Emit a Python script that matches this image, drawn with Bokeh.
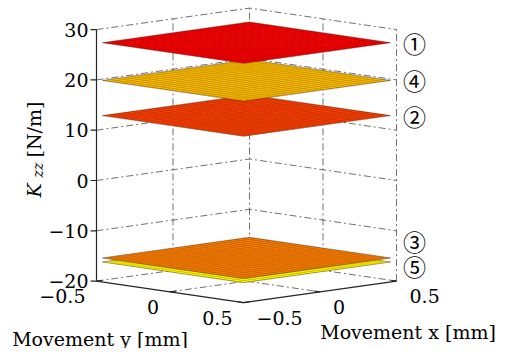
import numpy as np
from bokeh.plotting import figure
from bokeh.models import Range1d
from bokeh.embed import file_html
from bokeh.resources import INLINE
from bokeh.core.properties import value

# ---------------- data ----------------
plane_ids = ["①", "②", "③", "④", "⑤"]
plane_z = [27.4, 12.9, -15.4, 19.9, -16.2]
plane_colors = ["#ff0000", "#ff4000", "#ff8000", "#ffbf00", "#ffff00"]
label_z = [27.4, 12.9, -12.0, 19.9, -17.0]

x_ticks = [-0.5, 0.0, 0.5]
x_tick_labels = ["−0.5", "0", "0.5"]
y_ticks = [-0.5, 0.0, 0.5]
y_tick_labels = ["−0.5", "0", "0.5"]
z_ticks = [-20, -10, 0, 10, 20, 30]
z_tick_labels = ["−20", "−10", "0", "10", "20", "30"]

x_label = "Movement x [mm]"
y_label = "Movement y [mm]"
z_label_main = "K"
z_label_sub = "zz"
z_label_unit = "[N/m]"

x_lim = (-0.5, 0.5)
y_lim = (-0.5, 0.5)
z_lim = (-20, 30)
plane_half = 0.48
mesh_n = 20

# ---------------- projection (orthographic 3-D view) ----------------
WIN_H = 356


def proj(x, y, z):
    sx = 246 + 153 * np.asarray(x, float) + 147 * np.asarray(y, float)
    sy = 180 - 5.03 * np.asarray(z, float) + 21.5 * (np.asarray(y, float) - np.asarray(x, float))
    return sx, WIN_H - sy


p = figure(width=499, height=348, x_range=Range1d(0, 499), y_range=Range1d(WIN_H - 348, WIN_H),
           output_backend="svg", toolbar_location=None, min_border=0)
p.axis.visible = False
p.grid.visible = False
p.outline_line_color = None
p.background_fill_color = "white"

SERIF = value("DejaVu Serif")
GRID_COL = "#606060"
AX_COL = "#262626"

# ---------------- grid lines (back walls + floor) ----------------
gx, gy = [], []
x0, x1 = x_lim
y0, y1 = y_lim
zb, zt = z_lim
for z in z_ticks:
    a = proj([x0, x1, x1], [y0, y0, y1], [z, z, z])
    gx.append(list(a[0])); gy.append(list(a[1]))
for x in x_ticks:
    if x == x0:
        continue
    a = proj([x, x], [y0, y0], [zb, zt])
    gx.append(list(a[0])); gy.append(list(a[1]))
for y in y_ticks:
    if y == y0:
        continue
    a = proj([x1, x1], [y, y], [zb, zt])
    gx.append(list(a[0])); gy.append(list(a[1]))
# floor
for x in x_ticks:
    if x in (x0, x1):
        continue
    a = proj([x, x], [y0, y1], [zb, zb])
    gx.append(list(a[0])); gy.append(list(a[1]))
for y in y_ticks:
    if y in (y0, y1):
        continue
    a = proj([x0, x1], [y, y], [zb, zb])
    gx.append(list(a[0])); gy.append(list(a[1]))
p.multi_line(gx, gy, line_color=GRID_COL, line_width=0.9, line_dash="7 3 2 3")

# ---------------- planes (painter's order: low to high) ----------------
order = np.argsort(plane_z)
t = np.linspace(-plane_half, plane_half, mesh_n + 1)
for i in order:
    z = plane_z[i]
    cx, cy = proj([-plane_half, plane_half, plane_half, -plane_half],
                  [-plane_half, -plane_half, plane_half, plane_half], [z] * 4)
    p.patch(list(cx), list(cy), fill_color=plane_colors[i], line_color="#3a1000",
            line_alpha=0.5, line_width=0.6)
    mx, my = [], []
    for v in t:
        a = proj([v, v], [-plane_half, plane_half], [z, z])
        mx.append(list(a[0])); my.append(list(a[1]))
        a = proj([-plane_half, plane_half], [v, v], [z, z])
        mx.append(list(a[0])); my.append(list(a[1]))
    p.multi_line(mx, my, line_color="#200800", line_alpha=0.28, line_width=0.5)

# ---------------- axis lines ----------------
ax_x, ax_y = [], []
a = proj([x0, x0], [y0, y0], [zb, zt]); ax_x.append(list(a[0])); ax_y.append(list(a[1]))
a = proj([x0, x0], [y0, y1], [zb, zb]); ax_x.append(list(a[0])); ax_y.append(list(a[1]))
a = proj([x0, x1], [y1, y1], [zb, zb]); ax_x.append(list(a[0])); ax_y.append(list(a[1]))
# ticks
tk = 0.04
for z in z_ticks:
    sx, sy = proj(x0, y0, z)
    ax_x.append([float(sx) - 6, float(sx)]); ax_y.append([float(sy), float(sy)])
for y in y_ticks:
    a = proj([x0, x0 + tk], [y, y], [zb, zb]); ax_x.append(list(a[0])); ax_y.append(list(a[1]))
for x in x_ticks:
    a = proj([x, x], [y1, y1 - tk], [zb, zb]); ax_x.append(list(a[0])); ax_y.append(list(a[1]))
p.multi_line(ax_x, ax_y, line_color=AX_COL, line_width=1.2)

# ---------------- tick labels ----------------
FS = "19px"
zx, zy = proj([x0] * len(z_ticks), [y0] * len(z_ticks), z_ticks)
p.text(list(zx - 8), list(zy), text=z_tick_labels, text_align="right", text_baseline="middle",
       text_font=SERIF, text_font_size=FS, text_color="black")
yx, yy = proj([x0] * 3, y_ticks, [zb] * 3)
p.text(list(yx - 11), list(yy - 15), text=y_tick_labels, text_align="right", text_baseline="middle",
       text_font=SERIF, text_font_size=FS, text_color="black")
xx, xy = proj(x_ticks, [y1] * 3, [zb] * 3)
p.text(list(xx + 13), list(xy - 15), text=x_tick_labels, text_align="left", text_baseline="middle",
       text_font=SERIF, text_font_size=FS, text_color="black")

# ---------------- axis labels ----------------
mx_, my_ = proj(0.0, y1, zb)
p.text([float(mx_) + 88], [float(my_) - 40], text=[x_label], text_align="center", text_baseline="middle",
       text_font=SERIF, text_font_size=FS, text_color="black")
mx_, my_ = proj(x0, 0.0, zb)
p.text([float(mx_) - 70], [WIN_H - 338], text=[y_label], text_align="center", text_baseline="alphabetic",
       text_font=SERIF, text_font_size=FS, text_color="black")

# z label (rotated, K italic with subscript zz)
p.text([33], [WIN_H - 197], text=[z_label_main], angle=np.pi / 2, text_align="left",
       text_baseline="alphabetic", text_font=SERIF, text_font_style="italic",
       text_font_size=FS, text_color="black")
p.text([37.5], [WIN_H - 177], text=[z_label_sub], angle=np.pi / 2, text_align="left",
       text_baseline="alphabetic", text_font=SERIF, text_font_style="italic",
       text_font_size="14px", text_color="black")
p.text([33], [WIN_H - 157], text=[z_label_unit], angle=np.pi / 2, text_align="left",
       text_baseline="alphabetic", text_font=SERIF, text_font_size=FS, text_color="black")

# ---------------- circled plane labels ----------------
lx, ly = proj([x1] * 5, [y1] * 5, label_z)
lsx = [float(v) + 18 for v in lx]
p.text(lsx, list(ly), text=plane_ids, text_align="center", text_baseline="middle",
       text_font=value("Noto Sans CJK JP"), text_font_size="23px", text_color="black")

open("out.html", "w").write(file_html(p, INLINE))
